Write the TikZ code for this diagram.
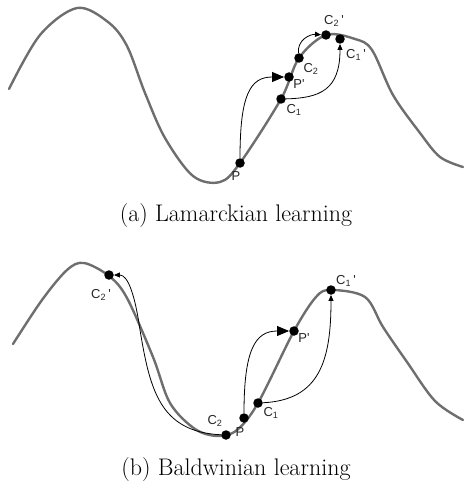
\documentclass[tikz,border=0pt]{standalone}
\usepackage{fontspec}
\newfontfamily\lblfont{Liberation Sans}
\usetikzlibrary{arrows.meta}
\definecolor{curvegray}{HTML}{6E6E6E}
\tikzset{
  dot/.style={circle,fill=black,inner sep=0pt,minimum size=9.5pt},
  landscape/.style={draw=curvegray,line width=2.4pt,line join=round,line cap=round},
  movebig/.style={draw=black,line width=0.8pt,-{Triangle[length=12pt,width=10pt]}},
  movesmall/.style={draw=black,line width=0.8pt,-{Triangle[length=6pt,width=5pt]}},
  lbl/.style={font=\lblfont\fontsize{13}{15}\selectfont,text=black!85,inner sep=0pt},
  caption/.style={font=\fontsize{24}{28}\selectfont,inner sep=0pt}
}
\newcommand{\Cl}[1]{C\textsubscript{#1}}
\newcommand{\Cp}[1]{C\textsubscript{#1}\,\textquotesingle}
\begin{document}
\begin{tikzpicture}[x=1pt,y=-1pt]
\useasboundingbox (0,0) rectangle (463,489);
% ---------- (a) ----------
\draw[landscape] plot[smooth,tension=0.55] coordinates {
 (9,89) (40,35) (77,8) (108,22) (127,46) (145,93) (165,138) (193,176)
 (220,182) (240,163) (281,99) (299,58) (326,35) (355,39) (372,50) (393,95)
 (420,133) (440,157) (463,167)};
\node[dot] (aP)   at (240,163) {};
\node[dot] (aC1)  at (281,99) {};
\node[dot] (aPp)  at (289,77) {};
\node[dot] (aC2)  at (299,58) {};
\node[dot] (aC2p) at (326,35) {};
\node[dot] (aC1p) at (340,39) {};
\draw[movebig] (aP) .. controls (240,95) and (250,77) .. (aPp);
\draw[movesmall] (aC1) .. controls (320,98) and (340,90) .. (aC1p);
\draw[movesmall] (aC2) .. controls (297,40) and (310,34) .. (aC2p);
\node[lbl] (laP)   at (236,176) {P};
\node[lbl] (laPp)  at (299,84) {P\textquotesingle};
\node[lbl] (laC1)  at (294,110) {\Cl{1}};
\node[lbl] (laC2)  at (311,69) {\Cl{2}};
\node[lbl] (laC2p) at (334,21) {\Cp{2}};
\node[lbl] (laC1p) at (356,55) {\Cp{1}};
\node[caption] (capa) at (236,216) {(a) Lamarckian learning};
% ---------- (b) ----------
\draw[landscape] plot[smooth,tension=0.55] coordinates {
 (13,344) (42,300) (67,270) (84,263) (109,276) (127,298) (153,357)
 (170,403) (195,429) (218,436) (237,430) (258,403) (294,331) (316,297)
 (331,290) (365,297) (383,327) (407,362) (435,401) (463,420)};
\node[dot] (bC2p) at (109,275) {};
\node[dot] (bC2)  at (226,435) {};
\node[dot] (bP)   at (244,418) {};
\node[dot] (bC1)  at (258,403) {};
\node[dot] (bPp)  at (294,331) {};
\node[dot] (bC1p) at (331,290) {};
\draw[movebig] (bP) .. controls (244,350) and (255,331) .. (bPp);
\draw[movesmall] (bC1) .. controls (320,400) and (331,360) .. (bC1p);
\draw[movesmall] (bC2) .. controls (160,432) and (150,390) .. (140,330)
   .. controls (135,295) and (128,275) .. (bC2p);
\node[lbl] (lbC2p) at (101,295) {\Cp{2}};
\node[lbl] (lbC2)  at (215,421) {\Cl{2}};
\node[lbl] (lbP)   at (240,432) {P};
\node[lbl] (lbC1)  at (271,413) {\Cl{1}};
\node[lbl] (lbPp)  at (304,338) {P\textquotesingle};
\node[lbl] (lbC1p) at (346,281) {\Cp{1}};
\node[caption] (capb) at (236,470) {(b) Baldwinian learning};
\end{tikzpicture}
\end{document}
